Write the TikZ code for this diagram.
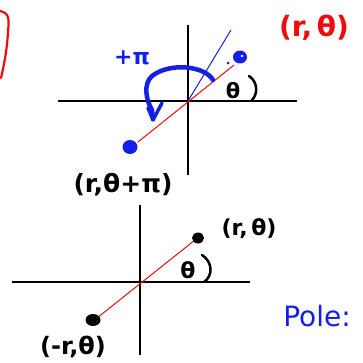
\documentclass[tikz,border=0pt]{standalone}
\usepackage{fontspec}
\setmainfont{DejaVu Sans}
\usetikzlibrary{arrows.meta}
\definecolor{pblue}{RGB}{20,30,230}
\definecolor{pred}{RGB}{240,10,10}
\newcommand{\fs}[1]{\fontsize{#1}{#1}\selectfont}
\begin{document}
\begin{tikzpicture}[x=1pt,y=-1pt,
  axis/.style={line width=1.2pt,black},
  rline/.style={line width=1pt,pred},
  lbl/.style={inner sep=0pt},
  dotb/.style={fill=pblue,draw=none},
  dotk/.style={fill=black,draw=none}]
\useasboundingbox (0,0) rectangle (362,363);
% left red bracket
\draw[pred,line width=2.2pt,line cap=round] (0,11) .. controls (10,13) and (9,20) .. (8,32) .. controls (7,50) and (4,65) .. (1,78);
% ---- top figure ----
\coordinate (O1) at (188,101);
\draw[axis] (188,25) -- (188,175);
\draw[axis] (58,101) -- (297,101);
\coordinate (P1) at (234,65);
\coordinate (Q1) at (138,142);
\draw[rline] (Q1) -- (P1);
\coordinate (B1) at (231,30);
\draw[pblue,line width=1pt] (O1) -- (B1);
\fill[dotb] (240,57) ellipse (7 and 6.5);
\fill[white] (242,56) ellipse (1.6 and 1.1);
\fill[dotb] (228,63) circle (1.5);
\fill[dotb] (130,147) ellipse (7.5 and 7);
% blue arc with arrow
\draw[pblue,line width=4.5pt,line cap=round,line join=round] (213,80) .. controls (205,66) and (170,62) .. (152,76) .. controls (143,84) and (146,100) .. (152,110) -- (153,119);
\draw[pblue,line width=3.5pt,line cap=round,line join=round] (148,108) -- (153,120) -- (162,103);
\node[pblue,lbl,font=\bfseries\fs{22}] (pi) at (132,58) {+π};
\node[lbl,font=\bfseries\fs{21}] (th1) at (233,91) {θ};
\draw[line width=2.5pt,line cap=round] (249,76) .. controls (258,82) and (258,94) .. (252,100);
\node[pred,lbl,font=\bfseries\fs{28}] (rt1) at (314,28) {(r,\,θ)};
\node[lbl,font=\bfseries\fs{25}] (rtp) at (123,185) {(r,θ+π)};
% ---- bottom figure ----
\coordinate (O2) at (140,282);
\draw[axis] (140,205) -- (140,355);
\draw[axis] (12,282) -- (250,282);
\coordinate (P2) at (195,240);
\coordinate (Q2) at (97,318);
\draw[rline] (Q2) -- (P2);
\fill[dotk] (198,238) ellipse (6 and 5.5);
\fill[dotk] (93,320) ellipse (7.5 and 6);
\node[lbl,font=\bfseries\fs{22}] (rt2) at (249,229) {(r,\,θ)};
\node[lbl,font=\bfseries\fs{22}] (th2) at (188,270) {θ};
\draw[line width=2.5pt,line cap=round] (202,255) .. controls (213,262) and (213,276) .. (204,282);
\node[lbl,font=\bfseries\fs{24}] (mrt) at (73,347) {(-r,θ)};
\node[pblue,lbl,font=\fs{28}] (pole) at (317,316) {Pole:};
\end{tikzpicture}
\end{document}
